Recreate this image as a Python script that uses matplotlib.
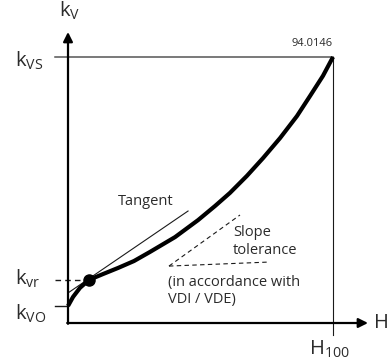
import numpy as np
import matplotlib as mpl
import matplotlib.pyplot as plt

mpl.rcParams['font.family'] = ['Open Sans', 'DejaVu Sans']
mpl.rcParams['mathtext.fontset'] = 'custom'
mpl.rcParams['mathtext.rm'] = 'Open Sans'
mpl.rcParams['mathtext.it'] = 'Open Sans'

# Valve characteristic: relative travel H/H100 vs. kv/kvs
travel = [0.0, 0.019, 0.045, 0.079, 0.132, 0.189, 0.249, 0.309, 0.404,
          0.491, 0.555, 0.611, 0.675, 0.736, 0.800, 0.864, 0.913, 0.962, 1.0]
kv = [0.064, 0.098, 0.132, 0.162, 0.184, 0.207, 0.233, 0.267, 0.323,
      0.387, 0.440, 0.489, 0.553, 0.620, 0.695, 0.778, 0.853, 0.929, 1.0]

kvo = 0.064
kvr = 0.162
h_r = 0.079

# tangent through the kvr point
tangent_h = [0.0, 0.453]
tangent_kv = [0.113, 0.421]

# slope tolerance wedge
tol_origin = (0.381, 0.214)
tol_upper = (0.649, 0.406)
tol_lower = (0.755, 0.229)

ink = '#1a1a1a'
txt = '#2b2b2b'

fig = plt.figure(figsize=(3.92, 3.62), dpi=100)
ax = fig.add_axes([0, 0, 1, 1])
ax.set_xlim(-0.2566, 1.2226)
ax.set_ylim(-0.1466, 1.2143)
ax.axis('off')

# axes with arrows
ax.annotate('', xy=(0, 1.094), xytext=(0, -0.003),
            arrowprops=dict(arrowstyle='-|>', lw=1.6, color='black',
                            mutation_scale=14, shrinkA=0, shrinkB=0))
ax.annotate('', xy=(1.132, 0), xytext=(-0.003, 0),
            arrowprops=dict(arrowstyle='-|>', lw=1.6, color='black',
                            mutation_scale=14, shrinkA=0, shrinkB=0))

# kvs and H100 reference lines
ax.plot([-0.049, 1.0], [1.0, 1.0], color='#555555', lw=1.1)
ax.plot([1.0, 1.0], [1.0, -0.045], color=ink, lw=0.8)

# kvo / kvr markers
ax.plot([-0.049, 0.0], [kvo, kvo], color=ink, lw=1.0)
ax.plot([-0.049, h_r], [kvr, kvr], color=ink, lw=1.0, ls=(0, (4, 3)))

# tangent
ax.plot(tangent_h, tangent_kv, color=ink, lw=0.8)

# characteristic curve
ax.plot(travel, kv, color='black', lw=3.0, solid_capstyle='butt',
        solid_joinstyle='round')
ax.plot([h_r], [kvr], 'o', color='black', ms=8)

# slope tolerance
ax.plot([tol_origin[0], tol_upper[0]], [tol_origin[1], tol_upper[1]],
        color=ink, lw=0.8, ls=(0, (4, 3)))
ax.plot([tol_origin[0], tol_lower[0]], [tol_origin[1], tol_lower[1]],
        color=ink, lw=0.8, ls=(0, (4, 3)))

# labels
fs = 10.5
ax.text(0.19, 0.455, 'Tangent', fontsize=fs, color=txt, va='center')
ax.text(0.622, 0.306, 'Slope\ntolerance', fontsize=fs, color=txt,
        va='center', linespacing=1.25)
ax.text(0.377, 0.120, '(in accordance with\nVDI / VDE)', fontsize=fs,
        color=txt, va='center', linespacing=1.15)
ax.text(1.0, 1.03, '94.0146', fontsize=8, color=txt, ha='right',
        va='bottom')

ks = 14.5
ax.text(-0.035, 1.13, r'$\mathrm{k}_\mathrm{V}$', fontsize=ks, color=txt,
        va='bottom')
ax.text(-0.2, 0.985, r'$\mathrm{k}_\mathrm{VS}$', fontsize=ks, color=txt,
        va='center')
ax.text(-0.2, 0.165, r'$\mathrm{k}_\mathrm{vr}$', fontsize=ks, color=txt,
        va='center')
ax.text(-0.2, 0.035, r'$\mathrm{k}_\mathrm{VO}$', fontsize=ks, color=txt,
        va='center')
ax.text(1.155, 0.0, 'H', fontsize=ks, color=txt, va='center')
ax.text(0.91, -0.10, r'$\mathrm{H}_{100}$', fontsize=ks, color=txt,
        va='center')

fig.savefig('out.png', dpi=100)
